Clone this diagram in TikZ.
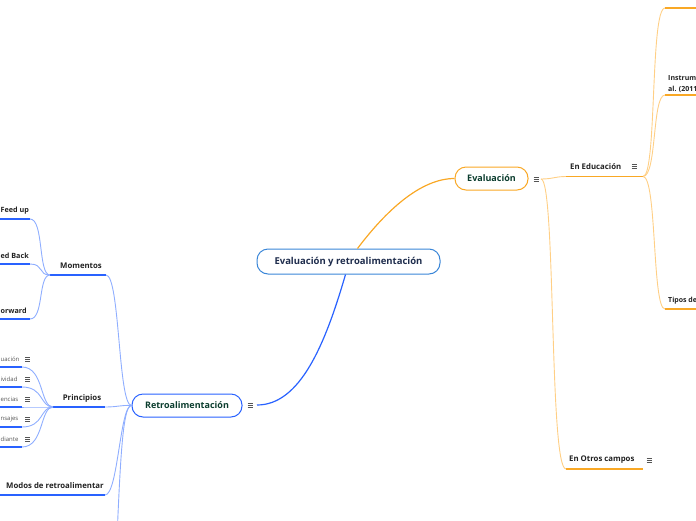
\documentclass[tikz,border=0pt]{standalone}
\usepackage{fontspec}
\setmainfont{Open Sans}
\definecolor{bl}{HTML}{2962FF}
\definecolor{blL}{HTML}{8FAEFF}
\definecolor{cb}{HTML}{3A86D8}
\definecolor{orS}{HTML}{F9A825}
\definecolor{orL}{HTML}{FFCF85}
\definecolor{navy}{HTML}{1F2D4D}
\definecolor{dgreen}{HTML}{0B3D2E}
\definecolor{lbl}{HTML}{222222}
\definecolor{gr}{HTML}{555555}
\newcommand{\menuicon}[1]{%
  \draw[gr,line width=0.6pt] ($(#1)+(-2.5,-2)$) -- +(5,0) ($(#1)+(-2.5,0)$) -- +(5,0) ($(#1)+(-2.5,2)$) -- +(5,0);}
\usetikzlibrary{calc}
\begin{document}
\begin{tikzpicture}[x=1pt,y=-1pt,
  central/.style={draw=cb,line width=1pt,rounded corners=11pt,fill=white,minimum width=183pt,minimum height=25pt,text=navy,font=\bfseries\fontsize{9.5}{11}\selectfont,inner sep=0pt},
  mainbox/.style={line width=1pt,rounded corners=11pt,fill=white,minimum height=23pt,text=dgreen,font=\bfseries\fontsize{9}{10}\selectfont,inner sep=0pt},
  lab/.style={text=lbl,font=\bfseries\fontsize{7.8}{9}\selectfont,inner sep=0pt},
  small/.style={text=gr,font=\fontsize{6}{7}\selectfont,inner sep=0pt},
  thinB/.style={blL,line width=0.9pt},
  thinO/.style={orL,line width=0.9pt},
  ulB/.style={bl,line width=1.9pt},
  ulO/.style={orS,line width=1.9pt}]
\useasboundingbox (0,0) rectangle (696,520);
\clip (0,0) rectangle (696,520);

% main nodes
\node[central] (root) at (348.5,261.5) {Evaluación y retroalimentación};
\node[mainbox,draw=orS,minimum width=73pt] (eval) at (491.5,178.5) {Evaluación};
\node[mainbox,draw=bl,minimum width=110pt] (retro) at (187,405.5) {Retroalimentación};

\coordinate (rootT) at ([xshift=9pt]root.north);
\coordinate (rootB) at ([xshift=-3pt]root.south);
\draw[orS,line width=1.2pt] (rootT) .. controls (385,212) and (420,178.5) .. (eval.west);
\coordinate (retroM) at (257,405);
\draw[bl,line width=1.2pt] (rootB) .. controls (325,345) and (300,405) .. (retroM);
\menuicon{250,405}
\menuicon{536,179}

% ---------- right side ----------
\coordinate (evalM) at (541,179);
\coordinate (eduL) at (566,176.5);
\coordinate (eduR) at (643,176.5);
\coordinate (otrL) at (566,469);
\coordinate (otrR) at (643,469);
\draw[thinO] (evalM) .. controls (553,179) and (555,176.5) .. (eduL);
\draw[thinO] (evalM) .. controls (556,179) and (549,469) .. (otrL);
\draw[ulO] (eduL) -- (eduR);
\draw[ulO] (otrL) -- (otrR);
\node[lab,anchor=west] (edu) at (570,167) {En Educación};
\menuicon{634,166}
\node[lab,anchor=west] (otr) at (569,460) {En Otros campos};
\menuicon{649,460}

\coordinate (t1L) at (665,8);   \coordinate (t1R) at (700,8);
\coordinate (t2L) at (665,95);  \coordinate (t2R) at (700,95);
\coordinate (t3L) at (665,309); \coordinate (t3R) at (700,309);
\draw[thinO] (eduR) .. controls (657,176.5) and (650,8) .. (t1L);
\draw[thinO] (eduR) .. controls (657,176.5) and (652,95) .. (t2L);
\draw[thinO] (eduR) .. controls (657,176.5) and (652,309) .. (t3L);
\draw[ulO] (t1L) -- (t1R);
\draw[ulO] (t2L) -- (t2R);
\draw[ulO] (t3L) -- (t3R);
\node[lab,anchor=west,font=\bfseries\fontsize{7}{11}\selectfont,align=left] (instr) at (668,84) {Instrum\\al. (2011};
\node[lab,anchor=west,font=\bfseries\fontsize{7}{8}\selectfont] (tipos) at (668,301) {Tipos de};

% ---------- left side ----------
\coordinate (retroW) at (retro.west);
\coordinate (momL) at (50,275);  \coordinate (momR) at (106,275);
\coordinate (priL) at (53,407);  \coordinate (priR) at (105,407);
\coordinate (modL) at (-5,495);  \coordinate (modR) at (105,495);
\coordinate (offB) at (116,560);
\draw[thinB] (momR) .. controls (120,275) and (118,405) .. (retroW);
\draw[thinB] (priR) .. controls (118,407) and (120,405) .. (retroW);
\draw[thinB] (modR) .. controls (118,495) and (120,405) .. (retroW);
\draw[thinB] (retroW) .. controls (122,405) and (120,470) .. (offB);
\draw[ulB] (momL) -- (momR);
\draw[ulB] (priL) -- (priR);
\draw[ulB] (modL) -- (modR);
\node[lab] (mom) at (81,265.5) {Momentos};
\node[lab] (pri) at (82,398) {Principios};
\node[lab,anchor=west] (mod) at (6,485.5) {Modos de retroalimentar};

% Momentos children
\foreach \y/\t/\n in {219/Feed up/m1, 264/ed Back/m2, 319/orward/m3}{
  \coordinate (\n R) at (30,\y);
  \coordinate (\n L) at (-5,\y);
  \draw[thinB] (\n R) .. controls (44,\y) and (38,275) .. (momL);
  \draw[ulB] (\n L) -- (\n R);
  \node[lab,anchor=west,font=\bfseries\fontsize{7.2}{8}\selectfont] (\n) at (0.5,\y-8) {\t};
}
% Principios children
\foreach \y/\t/\n in {367/uación/p1, 387/ividad/p2, 407/encias/p3, 427/nsajes/p4, 447/diante/p5}{
  \coordinate (\n R) at (22,\y);
  \coordinate (\n L) at (-5,\y);
  \draw[thinB] (\n R) .. controls (44,\y) and (40,407) .. (priL);
  \draw[ulB] (\n L) -- (\n R);
  \node[small,anchor=west] (\n) at (0.5,\y-8) {\t};
  \menuicon{27.5,\y-8}
}
\end{tikzpicture}
\end{document}
